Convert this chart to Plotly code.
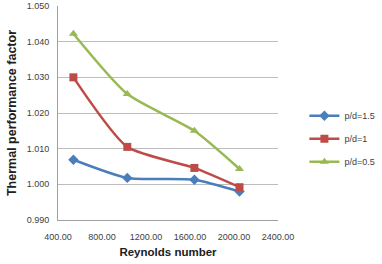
import plotly.graph_objects as go

reynolds = [540, 1030, 1640, 2050]
pd15 = [1.0069, 1.0018, 1.0013, 0.9980]
pd1 = [1.0300, 1.0105, 1.0046, 0.9992]
pd05 = [1.0422, 1.0253, 1.0150, 1.0043]
names = ["p/d=1.5", "p/d=1", "p/d=0.5"]
colors = ["#4A7EBB", "#BE4B48", "#98B954"]
symbols = ["diamond", "square", "triangle-up"]
y_ticks = [0.990, 1.000, 1.010, 1.020, 1.030, 1.040, 1.050]
x_ticks = [400, 800, 1200, 1600, 2000, 2400]

fig = go.Figure()
for ys, n, c, s in zip([pd15, pd1, pd05], names, colors, symbols):
    fig.add_trace(go.Scatter(
        x=reynolds, y=ys, name=n, legendgroup=n, mode="lines+markers",
        line=dict(color=c, width=2.5, shape="spline", smoothing=0.6),
        marker=dict(symbol=s, size=8, color=c),
    ))

fig.update_layout(
    width=382, height=264,
    margin=dict(l=58, r=104, t=6, b=44, autoexpand=False),
    paper_bgcolor="white", plot_bgcolor="white",
    font=dict(family="Liberation Sans, Arial", size=9, color="#404040"),
    legend=dict(x=1.12, y=0.38, xanchor="left", yanchor="middle",
                font=dict(size=9, color="#404040"), itemwidth=30,
                traceorder="grouped", tracegroupgap=4,
                bgcolor="rgba(0,0,0,0)"),
    xaxis=dict(range=[400, 2400], tickvals=x_ticks,
               ticktext=[f"{v:.2f}" for v in x_ticks],
               showgrid=False, zeroline=False, showline=True,
               linecolor="#A0A0A0", linewidth=1, ticks="",
               ticklabelstandoff=8, automargin=False,
               title=dict(text="<b>Reynolds number</b>", font=dict(size=11.5, color="#202020"), standoff=7)),
    yaxis=dict(range=[0.990, 1.050], tickvals=y_ticks,
               ticktext=[f"{v:.3f}" for v in y_ticks],
               showgrid=True, gridcolor="#BDBDBD", gridwidth=1,
               zeroline=False, showline=True, linecolor="#A0A0A0",
               linewidth=1, ticks="", ticklabelstandoff=6, automargin=False,
               title=dict(text="<b>Thermal performance factor</b>", font=dict(size=12.5, color="#202020"), standoff=7)),
)

fig.write_html("out.html")
